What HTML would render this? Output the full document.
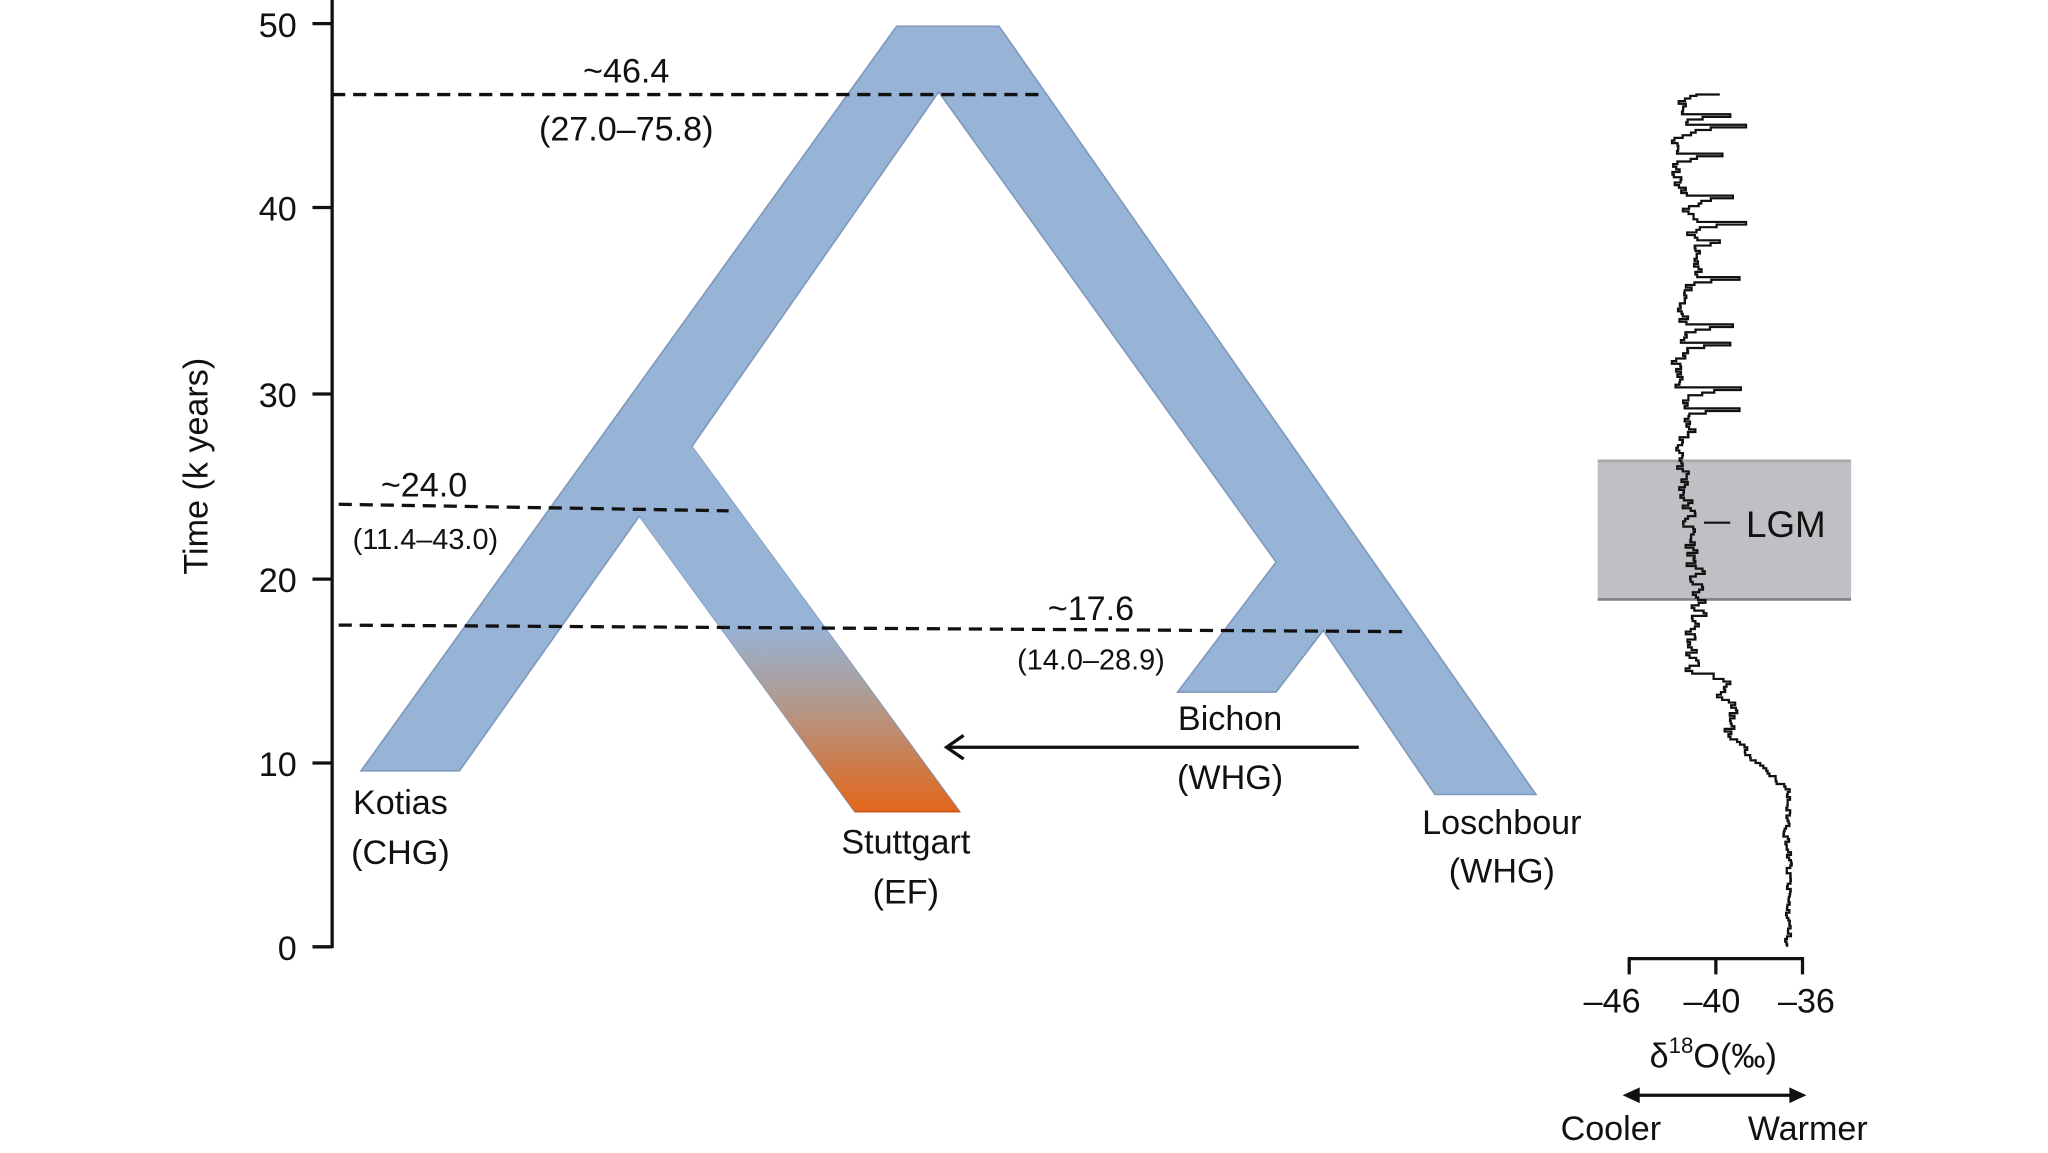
<!DOCTYPE html>
<html><head><meta charset="utf-8"><style>
html,body{margin:0;padding:0;background:#fff;}
svg{display:block;}
text{font-family:"Liberation Sans",sans-serif;fill:#111;}
</style></head><body>
<svg id="s" width="2048" height="1153" viewBox="0 0 1560 878" preserveAspectRatio="none" xmlns="http://www.w3.org/2000/svg">
<defs>
<linearGradient id="g" gradientUnits="userSpaceOnUse" x1="0" y1="478" x2="0" y2="618">
<stop offset="0" stop-color="#97b3d6"/>
<stop offset="0.4" stop-color="#b09a8e"/>
<stop offset="1" stop-color="#e2661a"/>
</linearGradient>
</defs>
<g stroke="#111" stroke-width="2.5">
<line x1="253" y1="0" x2="253" y2="722"/>
<line x1="238" y1="18" x2="253" y2="18"/>
<line x1="238" y1="158" x2="253" y2="158"/>
<line x1="238" y1="300" x2="253" y2="300"/>
<line x1="238" y1="441" x2="253" y2="441"/>
<line x1="238" y1="581" x2="253" y2="581"/>
<line x1="238" y1="721" x2="253" y2="721"/>
</g>
<g font-size="26" text-anchor="end">
<text x="226" y="28">50</text>
<text x="226" y="168">40</text>
<text x="226" y="310">30</text>
<text x="226" y="451">20</text>
<text x="226" y="591">10</text>
<text x="226" y="731">0</text>
</g>
<text transform="translate(158,355) rotate(-90)" font-size="26" text-anchor="middle">Time (k years)</text>

<polygon fill="#97b3d6" stroke="#7e98bb" stroke-width="1.2" points="683,20 761,20 1170,605 1093,605 1008,480 972,527 897,527 972,428 715,70 527,340 731,618 651,618 487,393 350,587 275,587"/>
<polygon fill="url(#g)" points="527,340 731,618 651,618 487,393 505,366"/>
<line x1="651" y1="618" x2="731" y2="618" stroke="#c85a18" stroke-width="1.5"/>

<g stroke="#111" stroke-width="2.5" stroke-dasharray="10,6" fill="none">
<line x1="253" y1="72" x2="795" y2="72"/>
<line x1="258" y1="384" x2="555" y2="389"/>
<line x1="258" y1="476" x2="1072" y2="481"/>
</g>
<g text-anchor="middle">
<text x="477" y="63" font-size="26">~46.4</text>
<text x="477" y="107" font-size="26">(27.0–75.8)</text>
<text x="323" y="378" font-size="26">~24.0</text>
<text x="324" y="418" font-size="22">(11.4–43.0)</text>
<text x="831" y="472" font-size="26">~17.6</text>
<text x="831" y="510" font-size="22">(14.0–28.9)</text>
<text x="937" y="556" font-size="26">Bichon</text>
<text x="937" y="601" font-size="26">(WHG)</text>
<text x="305" y="620" font-size="26">Kotias</text>
<text x="305" y="658" font-size="26">(CHG)</text>
<text x="690" y="650" font-size="26">Stuttgart</text>
<text x="690" y="688" font-size="26">(EF)</text>
<text x="1144" y="635" font-size="26">Loschbour</text>
<text x="1144" y="672" font-size="26">(WHG)</text>
</g>
<g stroke="#111" stroke-width="2.5" fill="none">
<line x1="1035" y1="569" x2="722" y2="569"/>
<polyline points="734,560 721,569 734,578"/>
</g>

<rect x="1217" y="350" width="193" height="107" fill="#c0c0c4"/>
<line x1="1217" y1="351" x2="1410" y2="351" stroke="#a8a8ac" stroke-width="2"/>
<line x1="1217" y1="456.5" x2="1410" y2="456.5" stroke="#808084" stroke-width="2"/>
<text x="1330" y="409" font-size="28">LGM</text>
<path id="curve" fill="none" stroke="#111" stroke-width="1.7" d=""/>
<line x1="1298" y1="398" x2="1318" y2="398" stroke="#111" stroke-width="1.6"/>

<g stroke="#111" stroke-width="2.5" fill="none">
<line x1="1240" y1="730" x2="1374" y2="730"/>
<line x1="1241" y1="729" x2="1241" y2="742"/>
<line x1="1307" y1="729" x2="1307" y2="742"/>
<line x1="1373" y1="729" x2="1373" y2="742"/>
<line x1="1240" y1="834" x2="1372" y2="834"/>
</g>
<polygon points="1236,834 1249,828 1249,840" fill="#111"/>
<polygon points="1376,834 1363,828 1363,840" fill="#111"/>
<g text-anchor="middle" font-size="26">
<text x="1228" y="771">–46</text>
<text x="1304" y="771">–40</text>
<text x="1376" y="771">–36</text>
<text x="1305" y="813">δ<tspan font-size="17" dy="-11">18</tspan><tspan dy="11">O(‰)</tspan></text>
<text x="1227" y="868">Cooler</text>
<text x="1377" y="868">Warmer</text>
</g>
</svg>
<script>
(function(){
var seed=11;function r(){seed=(seed*16807)%2147483647;return seed/2147483647;}
var spikes=[[88,1318],[97,1330],[118,1312],[150,1320],[170,1330],[185,1310],[212,1325],[248,1320],[262,1318],[296,1326],[312,1325]];
function base(y){
 if(y<330) return 1283+6*Math.sin(y/25);
 if(y<470) return 1280+(y-330)*0.1;
 if(y<515) return 1288;
 if(y<560) return 1315;
 if(y<600) return 1318+(y-560)*1.1;
 return 1362;
}
function amp(y){ if(y<330) return 10; if(y<470) return 12; if(y<560) return 12; return 5;}
var d="M1310,72",x=1310,si=0;
for(var y=73;y<=722;y+=2){
 var b=base(y),a=amp(y);
 var nx=b+(r()-0.5)*2*a;
 if(si<spikes.length && y>=spikes[si][0]){ nx=spikes[si][1]; si++; x=nx; }
 else x=x*0.5+nx*0.5;
 d+=" H"+x.toFixed(1)+" V"+y;
}
document.getElementById('curve').setAttribute('d',d);
})();
</script>
</body></html>
